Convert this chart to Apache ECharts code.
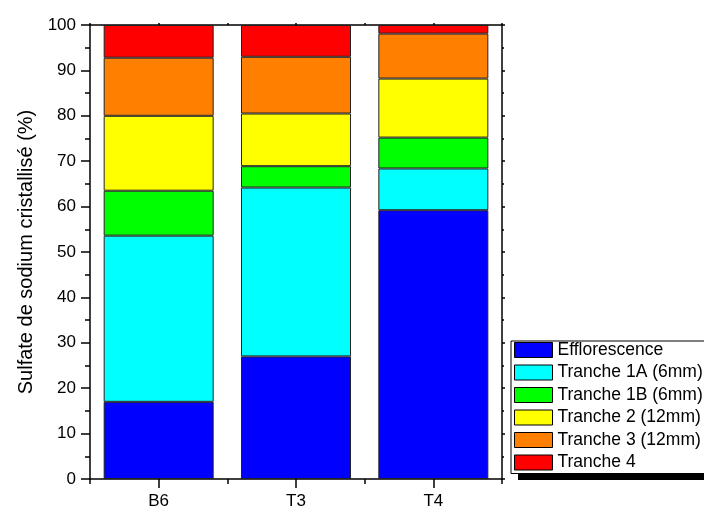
<!DOCTYPE html>
<html><head><meta charset="utf-8">
<script src="https://cdn.jsdelivr.net/npm/echarts@6/dist/echarts.min.js"></script>
<style>html,body{margin:0;padding:0;background:#fff}#c{width:704px;height:510px}</style>
</head><body><div id="c"></div>
<script>
const categories = ['B6', 'T3', 'T4'];
const seriesNames = ['Efflorescence', 'Tranche 1A (6mm)', 'Tranche 1B (6mm)', 'Tranche 2 (12mm)', 'Tranche 3 (12mm)', 'Tranche 4'];
const efflorescence = [17.0, 27.0, 59.2];
const tranche1A = [36.6, 37.2, 9.2];
const tranche1B = [9.9, 4.7, 6.8];
const tranche2 = [16.5, 11.6, 13.0];
const tranche3 = [12.8, 12.5, 9.9];
const tranche4 = [7.2, 7.0, 1.9];
const yTicks = [0, 10, 20, 30, 40, 50, 60, 70, 80, 90, 100];
const colors = ['#0000ff', '#00ffff', '#00ff00', '#ffff00', '#ff8000', '#ff0000'];
const allData = [efflorescence, tranche1A, tranche1B, tranche2, tranche3, tranche4];

const font = 'Liberation Sans, Arial, sans-serif';
const chart = echarts.init(document.getElementById('c'), null, {renderer: 'canvas'});
const axisLine = {show: true, lineStyle: {color: '#000', width: 1.5}};
const tickStyle = {color: '#000', width: 1.5};
chart.setOption({
  animation: false,
  color: colors,
  grid: {left: 90, top: 25, right: 202, bottom: 29},
  graphic: [{
    type: 'rect', z: 1, silent: true,
    shape: {x: 518, y: 349, width: 200, height: 131},
    style: {fill: '#000'}
  }],
  legend: {
    orient: 'vertical', left: 511, top: 341, z: 10,
    itemWidth: 38, itemHeight: 15, itemGap: 4.5,
    padding: [0, 30, 2, 3],
    backgroundColor: '#fff', borderColor: '#000', borderWidth: 1,
    textStyle: {fontFamily: font, fontSize: 17.5, color: '#000'},
    itemStyle: {borderColor: '#000', borderWidth: 1},
    data: seriesNames.map(n => ({name: n, icon: 'rect'}))
  },
  xAxis: [
    {type: 'category', data: categories, position: 'bottom',
     axisLine: axisLine,
     axisTick: {show: true, alignWithLabel: true, length: 9, lineStyle: tickStyle},
     axisLabel: {fontFamily: font, fontSize: 17, color: '#000', margin: 14}},
    {type: 'category', data: categories, position: 'bottom',
     axisLine: {show: false},
     axisTick: {show: true, alignWithLabel: false, length: 5, lineStyle: tickStyle},
     axisLabel: {show: false}},
    {type: 'category', data: categories, position: 'top',
     axisLine: axisLine,
     axisTick: {show: true, alignWithLabel: false, length: 2, lineStyle: tickStyle},
     axisLabel: {show: false}},
    {type: 'category', data: categories, position: 'top',
     axisLine: {show: false},
     axisTick: {show: true, alignWithLabel: true, length: 2, lineStyle: tickStyle},
     axisLabel: {show: false}}
  ],
  yAxis: [
    {type: 'value', min: yTicks[0], max: yTicks[yTicks.length - 1], interval: 10,
     name: 'Sulfate de sodium cristallisé (%)', nameLocation: 'middle', nameGap: 54,
     nameTextStyle: {fontFamily: font, fontSize: 20, color: '#000'},
     axisLine: axisLine,
     axisTick: {show: true, length: 9, lineStyle: tickStyle},
     minorTick: {show: true, splitNumber: 2, length: 5, lineStyle: tickStyle},
     splitLine: {show: false},
     axisLabel: {fontFamily: font, fontSize: 17, color: '#000', margin: 14}},
    {type: 'value', min: yTicks[0], max: yTicks[yTicks.length - 1], interval: 10, position: 'right',
     axisLine: axisLine,
     axisTick: {show: true, length: 3, lineStyle: tickStyle},
     minorTick: {show: true, splitNumber: 2, length: 2, lineStyle: tickStyle},
     splitLine: {show: false},
     axisLabel: {show: false}}
  ],
  series: seriesNames.map((name, i) => ({
    name: name, type: 'bar', stack: 'total', barWidth: 110,
    xAxisIndex: 0, yAxisIndex: 0,
    itemStyle: {color: colors[i], borderColor: '#222', borderWidth: 1},
    data: allData[i]
  }))
});
</script></body></html>
